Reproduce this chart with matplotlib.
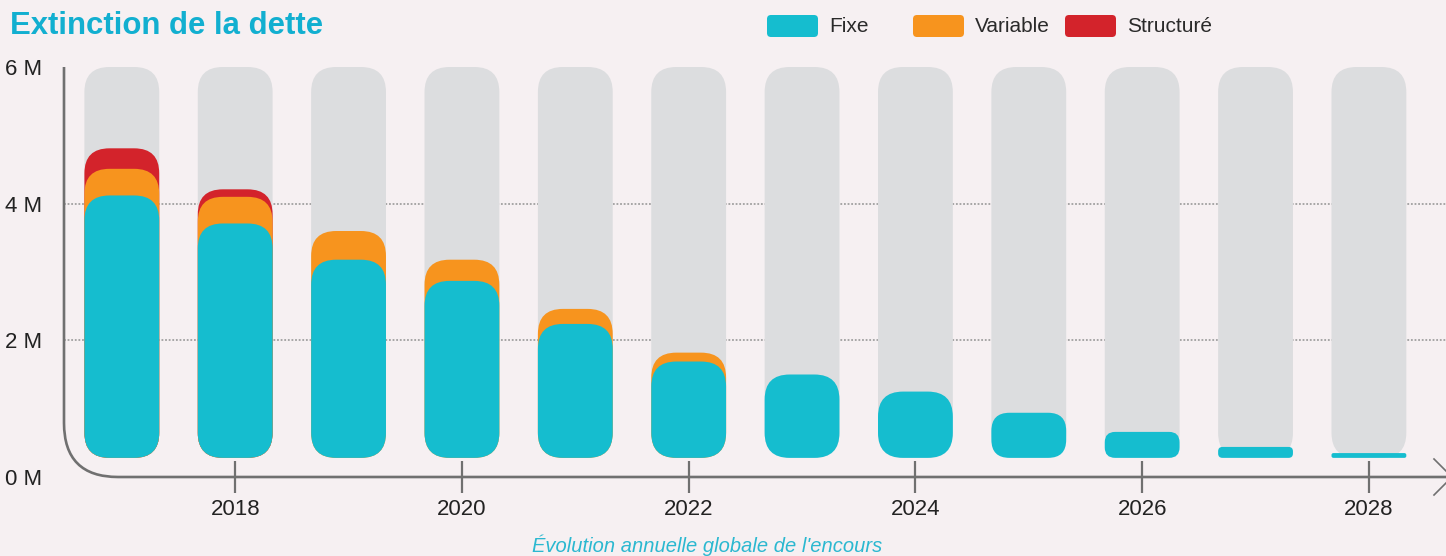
import matplotlib
matplotlib.use('Agg')
import matplotlib.pyplot as plt
from matplotlib.patches import FancyBboxPatch, PathPatch
from matplotlib.path import Path

# amounts in millions
years = [2017, 2018, 2019, 2020, 2021, 2022, 2023, 2024, 2025, 2026, 2027, 2028]
fixe = [3.84, 3.43, 2.90, 2.59, 1.96, 1.41, 1.22, 0.97, 0.66, 0.38, 0.16, 0.07]
variable = [0.39, 0.39, 0.42, 0.31, 0.22, 0.13, 0, 0, 0, 0, 0, 0]
structure = [0.30, 0.11, 0, 0, 0, 0, 0, 0, 0, 0, 0, 0]
series_names = ['Fixe', 'Variable', 'Structuré']
y_ticks = [0, 2, 4, 6]
y_tick_labels = ['0 M', '2 M', '4 M', '6 M']
x_ticks = [2018, 2020, 2022, 2024, 2026, 2028]
title = 'Extinction de la dette'
x_label = "Évolution annuelle globale de l'encours"

BG = '#f6f0f2'
CYAN = '#15bdcf'
ORANGE = '#f7941e'
RED = '#d3232b'
GREY_BAR = '#dcdddf'
AXIS = '#707070'
TITLE_C = '#12afd0'
FONT = ['Liberation Sans', 'DejaVu Sans']

W, H = 1446, 556
fig = plt.figure(figsize=(W / 100, H / 100), dpi=100, facecolor=BG)
ax = fig.add_axes([64 / W, 79 / H, (W - 64) / W, 410 / H])
ax.set_facecolor('none')
ax.set_xlim(2016.49, 2028.68)
ax.set_ylim(0, 6)
for s in ax.spines.values():
    s.set_visible(False)

# pixel scales to keep the corners round
px_x = ax.bbox.width / (2028.68 - 2016.49)
px_y = ax.bbox.height / 6.0
aspect = px_x / px_y
base = 0.28
bw = 0.66


def rbar(x, bottom, top, color, z):
    h_px = (top - bottom) * px_y
    r_px = min(25, 0.4 * h_px)
    p = FancyBboxPatch((x - bw / 2, bottom), bw, top - bottom,
                       boxstyle='round,pad=0,rounding_size=%f' % (r_px / px_x),
                       mutation_aspect=aspect, fc=color, ec='none', zorder=z)
    ax.add_patch(p)


for i, yr in enumerate(years):
    rbar(yr, base, 6.0, GREY_BAR, 1)
    f, v, s = fixe[i], variable[i], structure[i]
    if s > 0:
        rbar(yr, base, base + f + v + s, RED, 2)
    if v > 0:
        rbar(yr, base, base + f + v, ORANGE, 3)
    rbar(yr, base, base + f, CYAN, 4)

for yv in y_ticks[1:-1]:
    ax.axhline(yv, color='#a0a0a0', lw=1.3, ls=(0, (1, 1)), zorder=0)

ax.set_yticks(y_ticks, y_tick_labels)
ax.tick_params(axis='y', length=0, pad=16, labelsize=16, labelcolor='#222222')
ax.set_xticks(x_ticks)
ax.tick_params(axis='x', direction='inout', length=23, width=1.6, color=AXIS,
               pad=4, labelsize=16, labelcolor='#222222')
for lab in ax.get_xticklabels() + ax.get_yticklabels():
    lab.set_family(FONT)

# overlay in pixel coordinates for the decorations
deco = fig.add_axes([0, 0, 1, 1])
deco.set_xlim(0, W)
deco.set_ylim(H, 0)
deco.axis('off')
deco.patch.set_alpha(0)

axis_path = Path([(64, 67), (64, 423), (64, 477), (118, 477), (1450, 477)],
                 [Path.MOVETO, Path.LINETO, Path.CURVE3, Path.CURVE3, Path.LINETO])
deco.add_patch(PathPatch(axis_path, fc='none', ec=AXIS, lw=1.9))
deco.plot([1434, 1452, 1434], [459, 477, 495], color=AXIS, lw=1.2)

deco.text(10, 26, title, fontsize=22.4, fontweight='bold', color=TITLE_C,
          family=FONT, va='center', ha='left')
deco.text(707, 545, x_label, fontsize=14.5, style='italic', color='#2bb8d0',
          family=FONT, va='center', ha='center')

leg_x = [767, 913, 1065]
for name, col, lx in zip(series_names, [CYAN, ORANGE, RED], leg_x):
    deco.add_patch(FancyBboxPatch((lx, 15), 51, 22,
                                  boxstyle='round,pad=0,rounding_size=4',
                                  fc=col, ec='none'))
    deco.text(lx + 62, 26, name, fontsize=15, color='#2a2a2a', family=FONT,
              va='center', ha='left')

fig.savefig('out.png', dpi=100, facecolor=BG)
